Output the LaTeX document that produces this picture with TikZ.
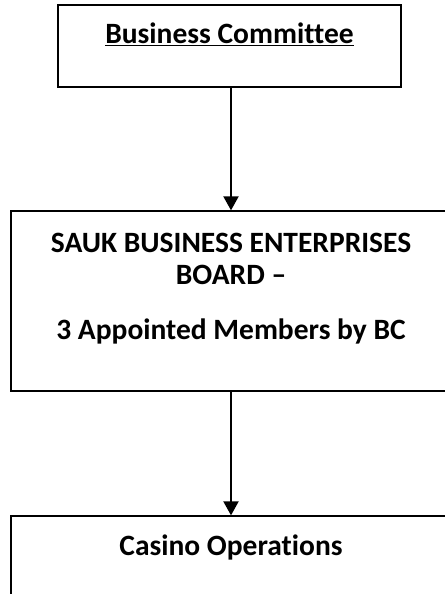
\documentclass[tikz,border=0pt]{standalone}
\usepackage{fontspec}
\setmainfont{Carlito}[Ligatures=NoCommon]
\usetikzlibrary{arrows.meta}
\begin{document}
\begin{tikzpicture}
[x=1bp,y=-1bp,
  boxdecorate/.style={shape=rectangle,draw,line width=1.3bp,inner sep=0pt,
    minimum width=440bp,font=\bfseries\fontsize{29.6}{32}\selectfont},%
  linedecorate/.style={line width=2bp,-{Triangle[length=14bp,width=15bp]}}]
\useasboundingbox (0,0) rectangle (445,594);
%% boxes
\node (bc) at (229.5,46) [boxdecorate,minimum width=343bp,text height=39bp,text depth=43bp]
  {\underline{Business Committee}};
\node (sbe) at (231,301) [boxdecorate,align=center,text height=128bp,text depth=52bp]
  {SAUK BUSINESS ENTERPRISES\\BOARD –\\[23bp]3 Appointed Members by BC};
\node (casino) at (231,576) [boxdecorate,text height=39bp,text depth=81bp]
  {Casino Operations};
%% arrows
\path
\foreach \startnode/\endnode in {bc/sbe, sbe/casino} {
  (\startnode.south -| \endnode.north) edge[linedecorate] (\endnode.north)
};
\end{tikzpicture}
\end{document}
